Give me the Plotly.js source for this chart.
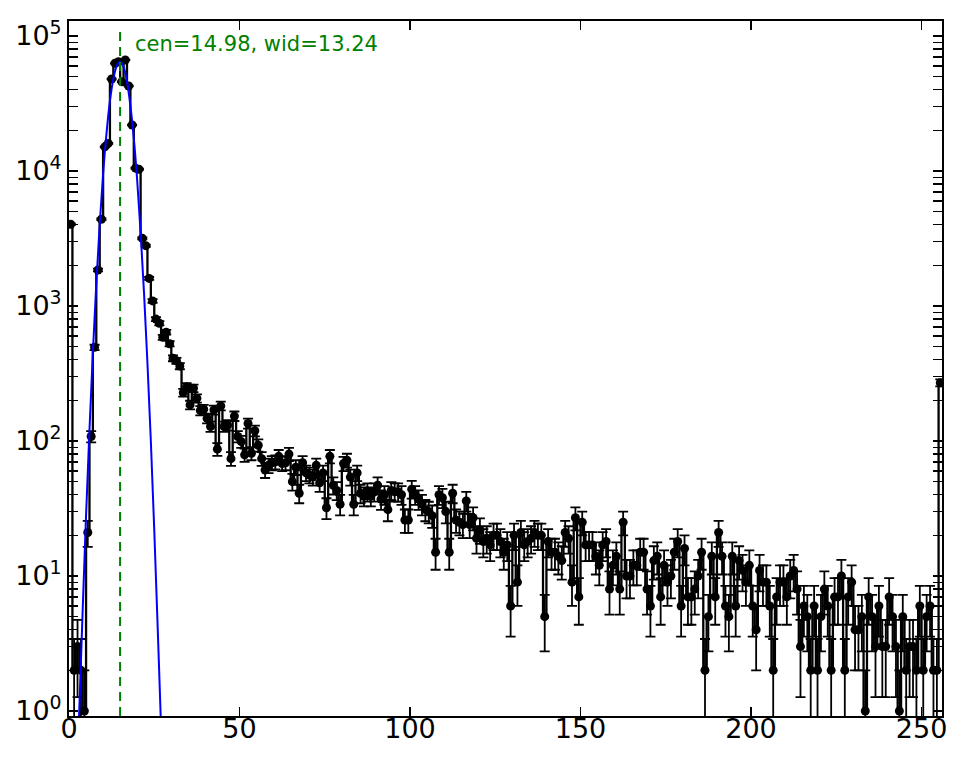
<!DOCTYPE html>
<html>
<head>
<meta charset="utf-8">
<script src="https://cdn.plot.ly/plotly-3.0.1.min.js"></script>
<style>
  html, body { margin: 0; padding: 0; background: #fff; }
  #spectrum { width: 965px; height: 762px; }
</style>
</head>
<body>
<div id="spectrum"></div>
<script>
// counts per channel (channel 0 .. 255)
let counts = [
  4030, 2, 3, 2, 1, 21, 108, 494, 1848, 4390,
  15100, 16000, 48000, 62800, 64500, 45800, 66400, 42600, 21900, 10500,
  10300, 3170, 2800, 1600, 1090, 800, 745, 586, 640, 525,
  410, 393, 359, 228, 252, 185, 246, 207, 168, 172,
  147, 128, 170, 87, 182, 128, 131, 74, 153, 108,
  99, 79, 135, 81, 119, 93, 74, 61, 66, 69,
  70, 77, 68, 69, 80, 50, 64, 41, 69, 58,
  56, 54, 66, 49, 58, 32, 77, 47, 43, 34,
  68, 72, 54, 34, 58, 41, 39, 42, 39, 42,
  47, 37, 40, 31, 43, 42, 42, 40, 26, 26,
  44, 40, 37, 34, 31, 30, 28, 15, 40, 38,
  30, 15, 41, 26, 25, 24, 36, 24, 27, 19,
  22, 18, 19, 17, 20, 20, 18, 15, 17, 6,
  20, 9, 21, 17, 18, 19, 21, 20, 20, 5,
  18, 15, 15, 14, 13, 21, 19, 9, 27, 7,
  25, 17, 17, 17, 14, 12, 17, 18, 8, 12,
  14, 8, 25, 10, 10, 12, 12, 15, 15, 8,
  6, 13, 14, 7, 12, 9, 10, 15, 18, 6,
  16, 7, 7, 8, 10, 15, 2, 5, 14, 7,
  21, 14, 6, 5, 14, 6, 13, 11, 9, 12,
  6, 4, 11, 9, 9, 6, 2, 7, 9, 9,
  7, 10, 11, 8, 3, 6, 5, 2, 6, 2,
  5, 8, 6, 2, 7, 7, 10, 2, 7, 9,
  4, 4, 5, 1, 7, 5, 3, 6, 3, 3,
  7, 5, 3, 1, 5, 2, 3, 3, 2, 6,
  2, 5, 6, 2, 2, 270
];

// gaussian fit curve
let fitX = [2.5, 3, 4, 5, 6, 7, 8, 9, 10, 11, 12, 13, 14, 15,
            16, 17, 18, 19, 20, 21, 22, 23, 24, 25, 26, 27, 27.5];
let fitY = [0.5, 1.0, 5.5, 28, 120, 450, 1450, 4000, 9500, 19000, 33000, 48000, 60000, 64500,
            59000, 46000, 30500, 17500, 8500, 3500, 1250, 380, 100, 22, 4.2, 0.75, 0.3];

let cen = 14.98;
let wid = 13.24;

let xRange = [0, 256];
let yTickVals = [1, 10, 100, 1000, 10000, 100000];
let yTickText = ['10<sup>0</sup>', '10<sup>1</sup>', '10<sup>2</sup>',
                 '10<sup>3</sup>', '10<sup>4</sup>', '10<sup>5</sup>'];

let channels = counts.map((c, i) => i + 0.5);  // bin centres

// minor ticks 2..9 in every decade
let yMinorVals = [];
yTickVals.forEach(d => {
  for (let k = 2; k <= 9; k++) yMinorVals.push(d * k);
});

let font = 'DejaVu Sans, Liberation Sans, sans-serif';

let dataTrace = {
  x: channels,
  y: counts,
  mode: 'lines+markers',
  line: { color: 'black', width: 2.3, shape: 'hvh' },
  marker: { color: 'black', size: 9 },
  error_y: { type: 'sqrt', color: 'black', thickness: 1.8, width: 5 },
  hoverinfo: 'x+y'
};

// the fit sits on the overlay x axis (same range), which carries the bottom ticks
let fitTrace = {
  x: fitX,
  y: fitY,
  xaxis: 'x2',
  mode: 'lines',
  line: { color: '#0000ff', width: 2, shape: 'spline' }
};

let axisCommon = {
  showline: true,
  linecolor: 'black',
  linewidth: 2,
  mirror: 'allticks',
  ticks: 'inside',
  tickcolor: 'black',
  tickwidth: 1.2,
  ticklen: 9,
  showgrid: false,
  zeroline: false,
  tickfont: { family: font, size: 27, color: 'black' }
};

Plotly.newPlot(document.getElementById('spectrum'),
  [dataTrace, fitTrace],
  {
    width: 965,
    height: 762,
    margin: { l: 69, r: 23, t: 21, b: 46 },
    paper_bgcolor: 'white',
    plot_bgcolor: 'white',
    showlegend: false,
    xaxis: Object.assign({}, axisCommon, {
      range: xRange,
      tickmode: 'linear',
      tick0: 0,
      dtick: 50,
      ticklabelstandoff: -12
    }),
    xaxis2: {
      overlaying: 'x',
      anchor: 'y',
      side: 'bottom',
      range: xRange,
      tickmode: 'linear',
      tick0: 0,
      dtick: 50,
      ticks: 'inside',
      tickcolor: 'black',
      tickwidth: 1.2,
      ticklen: 9,
      showticklabels: false,
      showline: false,
      showgrid: false,
      zeroline: false
    },
    yaxis: Object.assign({}, axisCommon, {
      type: 'log',
      range: [-0.037, 5.111],
      tickmode: 'array',
      tickvals: yTickVals,
      ticktext: yTickText,
      minor: {
        tickmode: 'array',
        tickvals: yMinorVals,
        ticks: 'inside',
        ticklen: 5,
        tickwidth: 1.2,
        tickcolor: 'black',
        showgrid: false
      }
    }),
    shapes: [{
      type: 'line',
      xref: 'x', yref: 'paper',
      x0: cen, x1: cen, y0: 0, y1: 0.99,
      line: { color: 'green', width: 2, dash: '9px,6px' }
    }],
    annotations: [{
      xref: 'x', yref: 'paper',
      x: cen + 3.8, y: 0.967,
      xanchor: 'left', yanchor: 'middle',
      showarrow: false,
      text: 'cen=' + cen.toFixed(2) + ', wid=' + wid.toFixed(2),
      font: { family: font, size: 21, color: 'green' }
    }]
  },
  { staticPlot: true }
);
</script>
</body>
</html>
